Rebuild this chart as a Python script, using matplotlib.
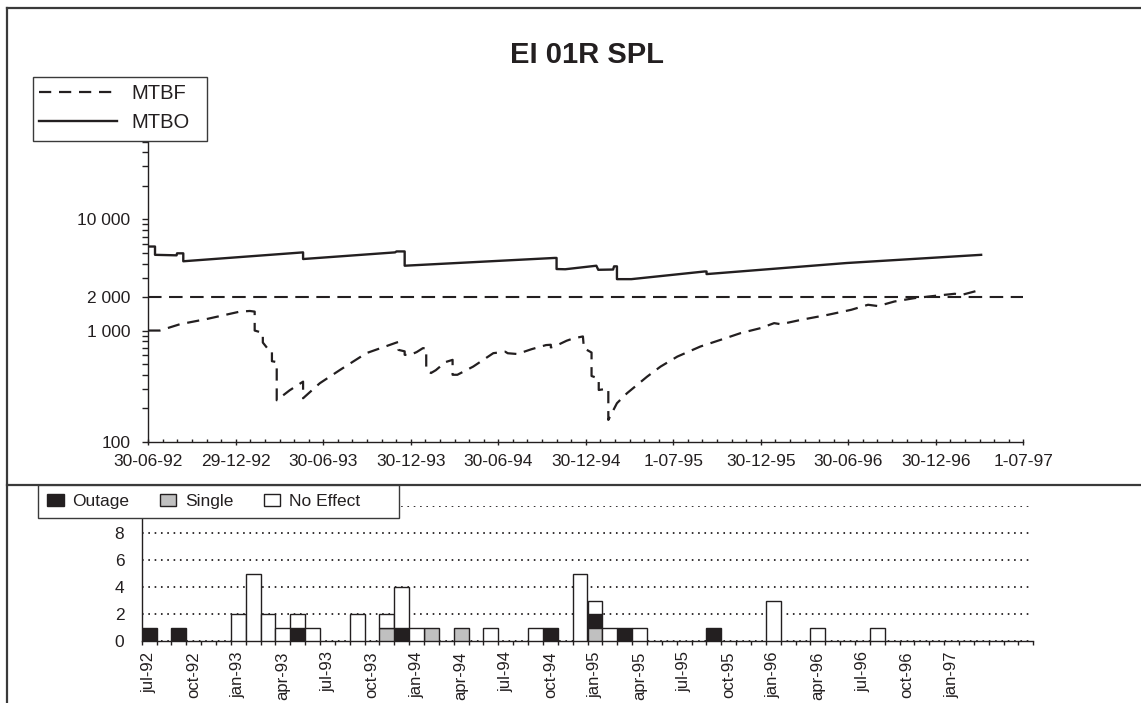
import numpy as np
import matplotlib
matplotlib.use('Agg')
import matplotlib.pyplot as plt
from matplotlib.lines import Line2D
from matplotlib.patches import Rectangle, Patch
from matplotlib.ticker import FixedLocator, FixedFormatter, NullFormatter

plt.rcParams['font.family'] = ['Liberation Sans', 'DejaVu Sans']

W, H = 1141, 703
INK = '#231f20'

# --- reliability curves, x = days since 30-06-92 ---
mtbo_day = [0, 14, 14, 59, 60, 73, 73, 323, 323, 515, 518, 535, 535, 848, 852, 852,
            870, 935, 939, 970, 972, 978, 978, 1008, 1161, 1165, 1165, 1457, 1738]
mtbo_val = [5700, 5700, 4800, 4750, 4950, 4950, 4200, 5050, 4400, 5050, 5150, 5150, 3830, 4500, 4500, 3575,
            3560, 3830, 3520, 3540, 3780, 3780, 2900, 2900, 3400, 3400, 3220, 4050, 4800]

mtbf_day = [0, 24, 66, 122, 191, 212, 222, 222, 229, 239, 239, 250, 258, 258, 268, 268,
            295, 323, 323, 358, 400, 455, 518, 522, 522, 535, 535, 545, 560, 573, 580, 580,
            590, 600, 620, 635, 635, 645, 678, 720, 745, 750, 770, 800, 830, 840, 840, 848,
            873, 887, 907, 909, 925, 925, 940, 940, 960, 960, 978, 999, 1041, 1069, 1104,
            1152, 1194, 1236, 1278, 1306, 1320, 1362, 1418, 1467, 1502, 1523, 1557, 1599,
            1641, 1683, 1697, 1738]
mtbf_val = [1000, 1000, 1140, 1270, 1480, 1500, 1480, 1000, 980, 950, 780, 680, 660, 530, 520, 236,
            290, 347, 246, 336, 442, 626, 780, 790, 670, 650, 605, 600, 640, 694, 694, 442,
            415, 440, 520, 545, 400, 400, 474, 626, 645, 625, 615, 680, 740, 745, 705, 720,
            810, 850, 885, 694, 634, 390, 370, 292, 300, 157, 222, 273, 385, 474, 583,
            718, 824, 948, 1052, 1166, 1140, 1248, 1385, 1537, 1706, 1660, 1825, 1958,
            2050, 2142, 2090, 2330]

target = 2000

date_ticks = ['30-06-92', '29-12-92', '30-06-93', '30-12-93', '30-06-94', '30-12-94',
              '1-07-95', '30-12-95', '30-06-96', '30-12-96', '1-07-97']
y_major = [100, 1000, 2000, 10000]
y_major_lbl = ['100', '1 000', '2 000', '10 000']

# --- monthly failure counts, jul-92 .. jun-97 ---
outage = [1, 0, 1, 0, 0, 0, 0, 0, 0, 0, 1, 0, 0, 0, 0, 0, 0, 1, 0, 0,
          0, 0, 0, 0, 0, 0, 0, 1, 0, 0, 1, 0, 1, 0, 0, 0, 0, 0, 1, 0,
          0, 0, 0, 0, 0, 0, 0, 0, 0, 0, 0, 0, 0, 0, 0, 0, 0, 0, 0, 0]
single = [0, 0, 0, 0, 0, 0, 0, 0, 0, 0, 0, 0, 0, 0, 0, 0, 1, 0, 0, 1,
          0, 1, 0, 0, 0, 0, 0, 0, 0, 0, 1, 0, 0, 0, 0, 0, 0, 0, 0, 0,
          0, 0, 0, 0, 0, 0, 0, 0, 0, 0, 0, 0, 0, 0, 0, 0, 0, 0, 0, 0]
no_effect = [0, 0, 0, 0, 0, 0, 2, 5, 2, 1, 1, 1, 0, 0, 2, 0, 1, 3, 1, 0,
             0, 0, 0, 1, 0, 0, 1, 0, 0, 5, 1, 1, 0, 1, 0, 0, 0, 0, 0, 0,
             0, 0, 3, 0, 0, 1, 0, 0, 0, 1, 0, 0, 0, 0, 0, 0, 0, 0, 0, 0]
month_lbl = ['jul-92', 'oct-92', 'jan-93', 'apr-93', 'jul-93', 'oct-93', 'jan-94',
             'apr-94', 'jul-94', 'oct-94', 'jan-95', 'apr-95', 'jul-95', 'oct-95',
             'jan-96', 'apr-96', 'jul-96', 'oct-96', 'jan-97']
count_lbl = ['0', '2', '4', '6', '8', '']


def px(x0, y0, w, h):
    # pixel box (top-left origin) -> figure fraction rect
    return [x0 / W, 1 - (y0 + h) / H, w / W, h / H]


fig = plt.figure(figsize=(W / 100, H / 100), dpi=100)

# ---------------- upper chart ----------------
ax = fig.add_axes(px(148.3, 141.7, 875, 300))
span = 1826.0
ax.plot(mtbf_day, mtbf_val, color=INK, lw=1.6, dashes=(5.5, 3.5), label='MTBF')
ax.plot(mtbo_day, mtbo_val, color=INK, lw=1.7, label='MTBO')
ax.axhline(target, color=INK, lw=1.5, dashes=(6.5, 3.6))
ax.set_yscale('log')
ax.set_ylim(100, 50000)
ax.set_xlim(0, span)

ax.yaxis.set_major_locator(FixedLocator(y_major))
ax.yaxis.set_major_formatter(FixedFormatter(y_major_lbl))
minors = [m * d for d in (100, 1000, 10000) for m in range(2, 10) if m * d <= 50000]
ax.yaxis.set_minor_locator(FixedLocator([v for v in minors if v not in y_major]))
ax.yaxis.set_minor_formatter(NullFormatter())

step = span / 10
ax.xaxis.set_major_locator(FixedLocator([k * step for k in range(11)]))
ax.xaxis.set_major_formatter(FixedFormatter(date_ticks))
ax.xaxis.set_minor_locator(FixedLocator([k * step / 6 for k in range(61)]))

for s in ('top', 'right'):
    ax.spines[s].set_visible(False)
for s in ('left', 'bottom'):
    ax.spines[s].set_color(INK)
    ax.spines[s].set_linewidth(1.0)
ax.tick_params(axis='y', which='both', direction='out', length=4, width=1.0,
               color=INK, labelsize=12.5, pad=9, labelcolor=INK)
ax.tick_params(axis='x', which='major', direction='inout', length=5, width=1.0,
               color=INK, labelsize=12.5, pad=6.5, labelcolor=INK)
ax.tick_params(axis='x', which='minor', direction='in', length=2.2, width=1.0, color=INK)
ax.patch.set_alpha(0)

fig.text(587 / W, 1 - 55 / H, 'EI 01R SPL', ha='center', va='center',
         fontsize=21, fontweight='bold', color=INK)

# ---------------- lower chart ----------------
bx = fig.add_axes(px(141.7, 506.4, 891.6, 134.6))
idx = np.arange(len(outage))
single_a = np.array(single)
outage_a = np.array(outage)
noeff_a = np.array(no_effect)
bar_kw = dict(width=1.0, edgecolor=INK, linewidth=1.0, zorder=3)
b_out = bx.bar(idx, outage_a, bottom=single_a, color=INK, label='Outage', **bar_kw)
b_sin = bx.bar(idx, single_a, color='#c0c0c0', label='Single', **bar_kw)
b_no = bx.bar(idx, noeff_a, bottom=single_a + outage_a, color='white', label='No Effect', **bar_kw)
# drop zero-height outlines
for cont in (b_out, b_sin, b_no):
    for r in cont:
        if r.get_height() == 0:
            r.set_visible(False)

bx.set_xlim(-0.5, len(outage) - 0.5)
bx.set_ylim(0, 10)
bx.yaxis.set_major_locator(FixedLocator(range(0, 11, 2)))
bx.yaxis.set_major_formatter(FixedFormatter(count_lbl))
bx.yaxis.grid(True, color=INK, lw=1.3, linestyle=(0, (0.9, 2.6)))
bx.set_axisbelow(True)
bx.xaxis.set_major_locator(FixedLocator(np.arange(len(outage) + 1) - 0.5))
bx.xaxis.set_major_formatter(NullFormatter())
bx.xaxis.set_minor_locator(FixedLocator(np.arange(0, len(outage), 3)))
bx.xaxis.set_minor_formatter(FixedFormatter(month_lbl))
for s in ('top', 'right'):
    bx.spines[s].set_visible(False)
for s in ('left', 'bottom'):
    bx.spines[s].set_color(INK)
    bx.spines[s].set_linewidth(1.0)
bx.tick_params(axis='x', which='major', direction='out', length=3, width=1.0, color=INK)
bx.tick_params(axis='x', which='minor', length=0, labelsize=12, pad=7.5,
               labelrotation=90, labelcolor=INK)
bx.tick_params(axis='y', length=0, labelsize=12.5, pad=12.5, labelcolor=INK)
bx.patch.set_alpha(0)

# ---------------- frame and legends ----------------
line_kw = dict(transform=fig.transFigure, color='#3a3a3a', lw=1.6)
fig.add_artist(Line2D([7 / W, 1], [1 - 7.5 / H, 1 - 7.5 / H], **line_kw))
fig.add_artist(Line2D([7 / W, 7 / W], [1 - 7.5 / H, 0], **line_kw))
fig.add_artist(Line2D([7 / W, 1], [1 - 485 / H, 1 - 485 / H], **line_kw))

for box in ((33, 77, 174, 64), (37.7, 485, 361.3, 33)):
    r = px(*box)
    fig.patches.append(Rectangle((r[0], r[1]), r[2], r[3], transform=fig.transFigure,
                                 facecolor='white', edgecolor='#3a3a3a', lw=1.0, zorder=2))

h1, l1 = ax.get_legend_handles_labels()
fig.legend(h1, l1, loc='upper left', bbox_to_anchor=(33 / W, 1 - 78 / H),
           frameon=False, fontsize=14.5, borderaxespad=0, borderpad=0.3,
           labelspacing=0.5, handlelength=3.85, handletextpad=0.75,
           labelcolor=INK)

leg_handles = [Patch(facecolor=INK, edgecolor=INK, lw=1.0),
               Patch(facecolor='#c0c0c0', edgecolor=INK, lw=1.0),
               Patch(facecolor='white', edgecolor=INK, lw=1.0)]
fig.legend(leg_handles, ['Outage', 'Single', 'No Effect'], loc='upper left',
           bbox_to_anchor=(40 / W, 1 - 487 / H), ncol=3, frameon=False,
           fontsize=12.5, borderaxespad=0, borderpad=0.42, handlelength=0.95,
           handleheight=0.7, handletextpad=0.5, columnspacing=1.75, labelcolor=INK)

fig.savefig('out.png', dpi=100)
